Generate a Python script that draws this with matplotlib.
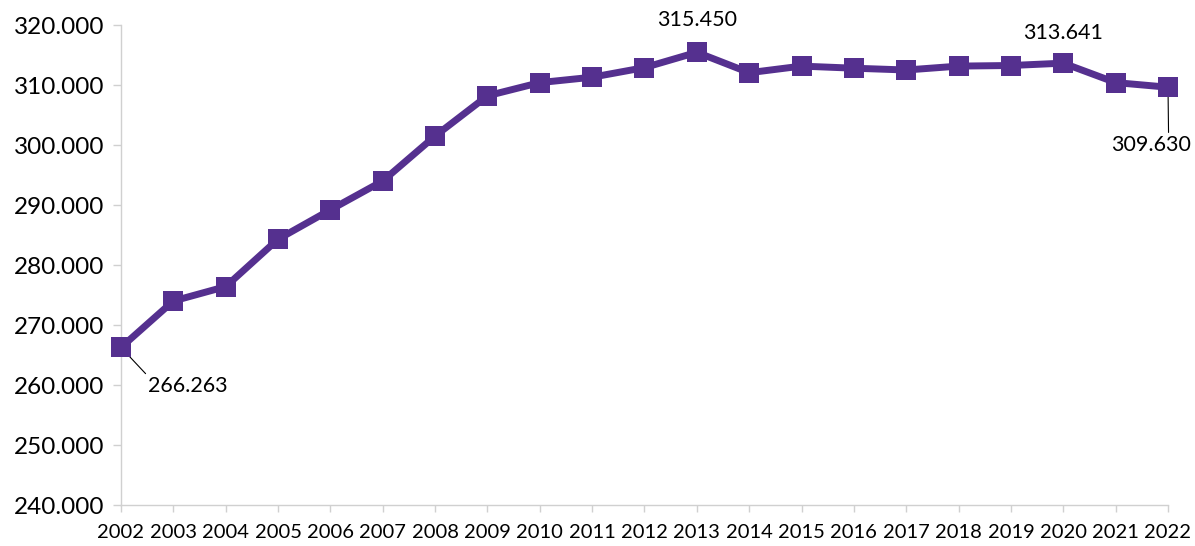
import matplotlib
matplotlib.use("Agg")
import matplotlib.pyplot as plt
from matplotlib.ticker import FuncFormatter

years = list(range(2002, 2023))
values = [266263, 274000, 276400, 284300, 289200, 294000, 301500, 308200,
          310400, 311300, 312900, 315450, 312050, 313150, 312800, 312500,
          313150, 313250, 313641, 310400, 309630]
yticks = list(range(240000, 320001, 10000))
labelled = {2002: (67, -39), 2013: (0, 32), 2020: (0, 30), 2022: (-17, -58)}

plt.rcParams['font.family'] = ['Lato', 'DejaVu Sans']

def dotfmt(v, pos=None):
    return f"{int(round(v)):,}".replace(",", ".")

fig = plt.figure(figsize=(11.95, 5.46), dpi=100)
ax = fig.add_axes([121/1195, 41/546, (1168-121)/1195, 480/546])

color = '#55308f'
ax.plot(years, values, color=color, lw=5, marker='s', markersize=13.7,
        markeredgewidth=0, zorder=3, solid_joinstyle='round', clip_on=False)

ax.set_xlim(2002, 2022)
ax.set_ylim(240000, 320000)
ax.set_xticks(years)
ax.set_xticklabels([str(y) for y in years])
ax.set_yticks(yticks)
ax.yaxis.set_major_formatter(FuncFormatter(dotfmt))

for s in ['top', 'right']:
    ax.spines[s].set_visible(False)
for s in ['left', 'bottom']:
    ax.spines[s].set_color('#d0d0d0')
    ax.spines[s].set_linewidth(1)
ax.tick_params(axis='y', length=6, width=1, color='#d0d0d0', labelsize=17.5, pad=6)
ax.tick_params(axis='x', length=5, width=1, color='#d0d0d0', labelsize=14.5, pad=9)

for yr, (dx, dy) in labelled.items():
    v = values[years.index(yr)]
    kw = {}
    if yr == 2002:
        kw = dict(arrowprops=dict(arrowstyle='-', color='black', lw=0.8,
                                  shrinkA=0, shrinkB=0, relpos=(0.0, 1.0)))
    if yr == 2022:
        kw = dict(arrowprops=dict(arrowstyle='-', color='black', lw=0.8,
                                  shrinkA=0, shrinkB=0, relpos=(0.72, 1.0)))
    ax.annotate(dotfmt(v), xy=(yr, v), xytext=(dx, dy), textcoords='offset pixels',
                ha='center', va='center', fontsize=15.5, color='black', zorder=2,
                annotation_clip=False, **kw)

fig.savefig('out.png', dpi=100)
